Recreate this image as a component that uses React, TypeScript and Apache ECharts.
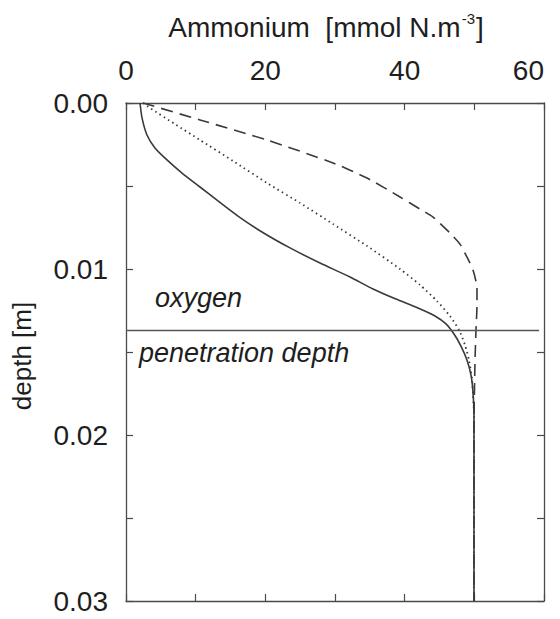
import React, { useEffect, useRef } from "react";
import * as echarts from "echarts";

// Solid curve
const solidDepth = [0, 0.0009, 0.00193, 0.00271, 0.00343, 0.00422, 0.00506, 0.0059, 0.00681, 0.00777, 0.00873, 0.00964, 0.01048, 0.0112, 0.01181, 0.01235, 0.01283, 0.01331, 0.01392, 0.01464, 0.01548, 0.01639, 0.01741, 0.0188, 0.03];
const solidValue = [2.01, 2.3, 3.01, 4.16, 5.88, 8.04, 10.62, 13.2, 16.07, 19.52, 23.54, 27.85, 32.15, 35.45, 38.75, 41.91, 44.35, 45.93, 47.08, 48.08, 48.94, 49.52, 49.81, 49.95, 49.95];
// Dotted curve
const dottedDepth = [0, 0.0003, 0.00127, 0.00223, 0.00349, 0.00482, 0.00602, 0.00729, 0.00861, 0.01, 0.01096, 0.01193, 0.01283, 0.01367, 0.01458, 0.01548, 0.01657, 0.01759, 0.0188, 0.03];
const dottedValue = [2.44, 3.44, 7.03, 10.62, 15.36, 20.24, 24.97, 29.71, 34.59, 39.33, 42.2, 44.64, 46.5, 47.8, 48.66, 49.23, 49.66, 49.81, 49.95, 49.95];
// Dashed curve
const dashedDepth = [0, 0.00102, 0.00223, 0.00361, 0.00452, 0.00566, 0.00639, 0.00687, 0.00783, 0.0085, 0.00928, 0.01006, 0.01114, 0.01217, 0.01367, 0.01548, 0.01729, 0.0191, 0.03];
const dashedValue = [2.44, 10.62, 20.24, 29.71, 34.59, 39.33, 42.2, 44.07, 46.5, 47.94, 48.94, 49.81, 50.38, 50.38, 50.24, 50.1, 50.02, 49.95, 49.95];

const penetrationDepth = 0.0137;
const xTickLabels = [0, 20, 40, 60];
const yTickLabels = [0, 0.01, 0.02, 0.03];

const zip = (xs: number[], ys: number[]) => xs.map((x, i) => [x, ys[i]]);

const FONT = "Liberation Sans";
const TXT = "#1e1e1e";
const AX = "#4a4a4a";

export default function App() {
  const ref = useRef<HTMLDivElement>(null);
  useEffect(() => {
    if (!ref.current) return;
    const chart = echarts.init(ref.current, null, { renderer: "svg" });
    const axisCommon = {
      type: "value" as const,
      axisLine: { show: true, onZero: false, lineStyle: { color: AX, width: 1.3 } },
      axisTick: { show: true, inside: true, length: 7, lineStyle: { color: AX, width: 1.2 } },
      splitLine: { show: false },
    };
    const xCommon = { ...axisCommon, min: 0, max: 60, interval: 10 };
    const yCommon = { ...axisCommon, min: 0, max: 0.03, interval: 0.005, inverse: true };
    chart.setOption({
      animation: false,
      backgroundColor: "#fff",
      grid: { left: 126, right: 16, top: 103, bottom: 18, containLabel: false },
      xAxis: [
        {
          ...xCommon,
          position: "top",
          axisLabel: {
            show: true,
            fontSize: 28,
            fontFamily: FONT,
            color: TXT,
            margin: 19,
            alignMaxLabel: "right",
            formatter: (v: number) => (xTickLabels.includes(Math.round(v)) ? String(Math.round(v)) : ""),
          },
        },
        { ...xCommon, position: "bottom", axisLabel: { show: false } },
      ],
      yAxis: [
        {
          ...yCommon,
          position: "left",
          axisLabel: {
            show: true,
            fontSize: 28,
            fontFamily: FONT,
            color: TXT,
            margin: 18,
            formatter: (v: number) => {
              const m = yTickLabels.find((t) => Math.abs(t - v) < 1e-9);
              return m === undefined ? "" : m.toFixed(2);
            },
          },
        },
        { ...yCommon, position: "right", axisLabel: { show: false } },
      ],
      series: [
        {
          type: "line",
          data: zip(solidValue, solidDepth),
          smooth: 0.2,
          showSymbol: false,
          lineStyle: { color: "#3a3a3a", width: 1.6, type: "solid" },
          markLine: {
            silent: true,
            symbol: "none",
            precision: 6,
            label: { show: false },
            lineStyle: { color: "#555", width: 1.3, type: "solid" },
            data: [[{ coord: [0, penetrationDepth] }, { coord: [59.3, penetrationDepth] }]],
          },
        },
        {
          type: "line",
          data: zip(dottedValue, dottedDepth),
          smooth: 0.2,
          showSymbol: false,
          lineStyle: { color: "#3a3a3a", width: 1.8, type: [1.5, 3.5] },
        },
        {
          type: "line",
          data: zip(dashedValue, dashedDepth),
          smooth: 0.2,
          showSymbol: false,
          lineStyle: { color: "#3a3a3a", width: 1.6, type: [12, 7] },
        },
      ],
      graphic: [
        {
          type: "text",
          x: 326,
          y: 27,
          style: {
            text: "{a|Ammonium  [mmol N.m}{s|-3}{a|]}",
            align: "center",
            verticalAlign: "middle",
            rich: {
              a: { fontSize: 28, fontFamily: FONT, fill: TXT, lineHeight: 32 },
              s: { fontSize: 15, fontFamily: FONT, fill: TXT, verticalAlign: "top", lineHeight: 32, padding: [0, 1, 13, 1] },
            },
          },
        },
        {
          type: "text",
          x: 22,
          y: 356,
          rotation: Math.PI / 2,
          style: { text: "depth [m]", fontSize: 26, fontFamily: FONT, fill: TXT, align: "center", verticalAlign: "middle" },
        },
        {
          type: "text",
          x: 155,
          y: 298,
          style: { text: "oxygen", fontSize: 27, fontStyle: "italic", fontFamily: FONT, fill: TXT, align: "left", verticalAlign: "middle" },
        },
        {
          type: "text",
          x: 139,
          y: 353,
          style: { text: "penetration depth", fontSize: 27, fontStyle: "italic", fontFamily: FONT, fill: TXT, align: "left", verticalAlign: "middle" },
        },
      ],
    });
    return () => chart.dispose();
  }, []);
  return <div ref={ref} style={{ width: 560, height: 619, position: "absolute", left: 0, top: 0 }} />;
}
